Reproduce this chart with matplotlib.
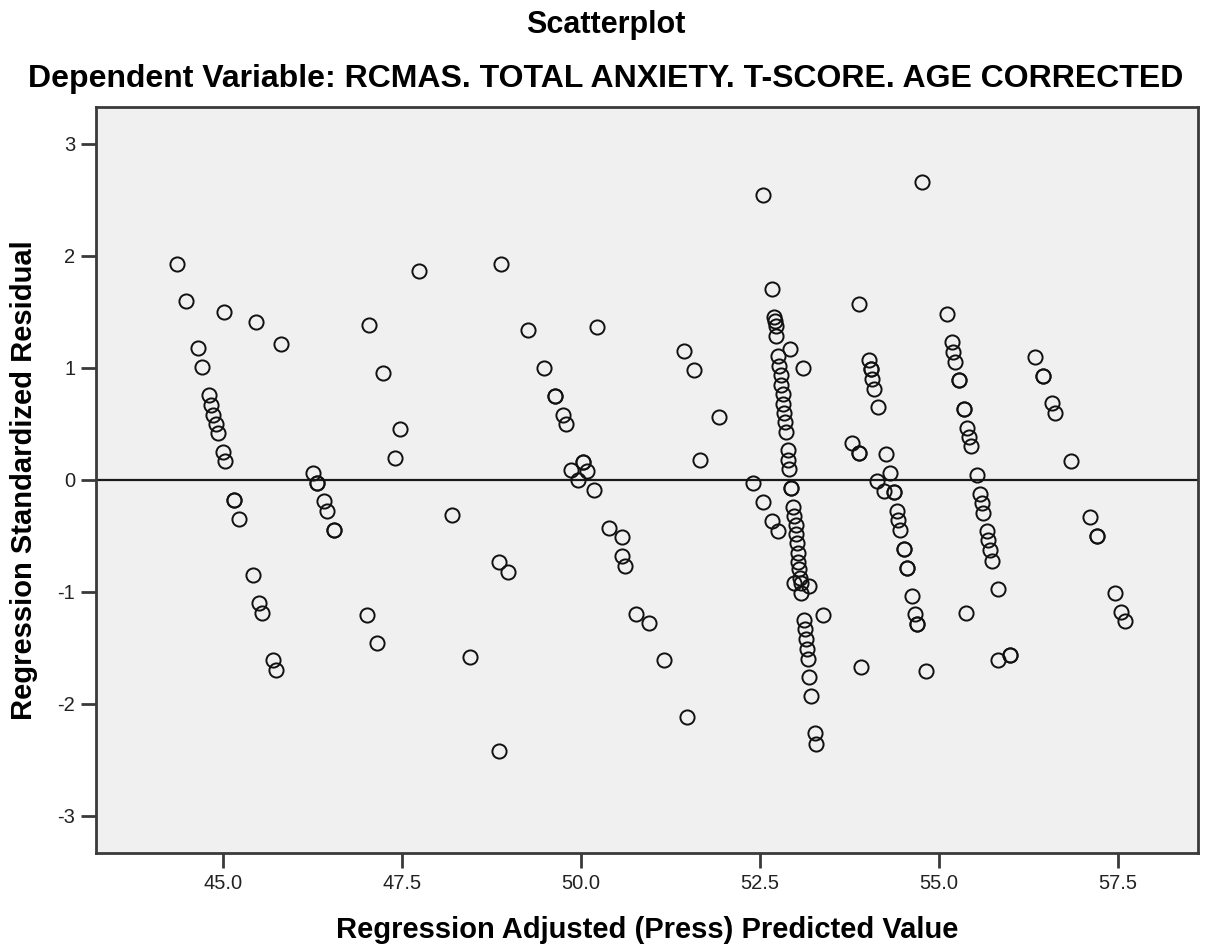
import numpy as np
import matplotlib
matplotlib.use("Agg")
import matplotlib.pyplot as plt

plt.rcParams['font.family'] = ['Liberation Sans', 'DejaVu Sans']

# Adjusted (Press) predicted values and standardized residuals
pred = [
    44.36, 44.48, 44.65, 44.71, 44.81, 44.84, 44.86, 44.90, 44.93, 45.00, 45.03,
    45.02, 45.16, 45.16, 45.23, 45.46, 45.42, 45.51, 45.55, 45.70, 45.74, 45.82,
    46.26, 46.31, 46.31, 46.41, 46.46, 46.56, 46.56,
    47.01, 47.04, 47.16, 47.24, 47.41, 47.48, 47.74,
    48.20, 48.45, 48.86, 48.99, 48.86, 48.89,
    49.26, 49.48, 49.64, 49.64, 49.75, 49.80, 49.86, 49.96, 50.03, 50.03, 50.09,
    50.19, 50.22,
    50.40, 50.57, 50.57, 50.62, 50.77, 50.95, 51.16, 51.49,
    51.44, 51.58, 51.66, 51.93,
    52.41, 52.54, 52.67, 52.75, 52.54, 52.67,
    52.70, 52.71, 52.72, 52.73, 52.76, 52.77, 52.79, 52.80, 52.82, 52.83, 52.84,
    52.85, 52.86, 52.89, 52.90, 52.91, 52.92, 53.10,
    52.94, 52.94, 52.97, 52.98, 53.00, 53.01, 53.02, 53.03, 53.04, 53.05, 53.06,
    53.07, 53.08, 52.98, 53.18, 53.12, 53.13, 53.14, 53.16, 53.17, 53.19, 53.22,
    53.27, 53.29, 53.38,
    53.79, 53.88, 53.88, 53.88, 53.92, 54.03, 54.05, 54.05, 54.07, 54.10, 54.15,
    54.26, 54.32, 54.14, 54.24, 54.37, 54.37, 54.41, 54.43, 54.46, 54.52, 54.52,
    54.56, 54.56, 54.63, 54.67, 54.70, 54.70, 54.76, 54.82,
    55.11, 55.18, 55.20, 55.23, 55.28, 55.28, 55.35, 55.35, 55.40, 55.42, 55.45,
    55.53, 55.57, 55.60, 55.62, 55.67, 55.69, 55.72, 55.74, 55.82, 55.38, 55.82,
    55.99, 55.99,
    56.35, 56.45, 56.45, 56.58, 56.62, 56.85, 57.11, 57.21, 57.21, 57.46, 57.55,
    57.60,
]
resid = [
    1.93, 1.60, 1.18, 1.01, 0.755, 0.665, 0.58, 0.495, 0.415, 0.25, 0.165,
    1.50, -0.18, -0.18, -0.345, 1.41, -0.85, -1.10, -1.19, -1.61, -1.70, 1.21,
    0.06, -0.024, -0.024, -0.19, -0.28, -0.446, -0.446,
    -1.205, 1.38, -1.46, 0.955, 0.196, 0.45, 1.86,
    -0.31, -1.58, -0.73, -0.82, -2.42, 1.93,
    1.34, 1.00, 0.75, 0.75, 0.58, 0.50, 0.09, 0.0, 0.16, 0.16, 0.08,
    -0.09, 1.36,
    -0.43, -0.51, -0.68, -0.77, -1.20, -1.28, -1.61, -2.12,
    1.15, 0.98, 0.18, 0.56,
    -0.03, -0.20, -0.37, -0.455, 2.54, 1.70,
    1.45, 1.42, 1.37, 1.28, 1.107, 1.02, 0.94, 0.85, 0.77, 0.68, 0.60,
    0.515, 0.426, 0.27, 0.18, 0.10, 1.17, 1.00,
    -0.074, -0.074, -0.24, -0.32, -0.40, -0.48, -0.565, -0.65, -0.73, -0.80, -0.88,
    -0.92, -1.01, -0.92, -0.95, -1.25, -1.33, -1.42, -1.51, -1.60, -1.76, -1.93,
    -2.26, -2.36, -1.21,
    0.33, 0.24, 0.24, 1.57, -1.67, 1.07, 0.99, 0.99, 0.90, 0.815, 0.65,
    0.23, 0.06, -0.006, -0.098, -0.11, -0.11, -0.28, -0.36, -0.45, -0.62, -0.62,
    -0.79, -0.79, -1.04, -1.20, -1.29, -1.29, 2.66, -1.71,
    1.48, 1.226, 1.137, 1.05, 0.887, 0.887, 0.63, 0.63, 0.467, 0.38, 0.30,
    0.04, -0.125, -0.21, -0.30, -0.46, -0.54, -0.63, -0.72, -0.97, -1.19, -1.61,
    -1.56, -1.56,
    1.10, 0.93, 0.93, 0.685, 0.595, 0.17, -0.33, -0.50, -0.50, -1.006, -1.18,
    -1.26,
]

x_ticks = [45.0, 47.5, 50.0, 52.5, 55.0, 57.5]
y_ticks = [-3, -2, -1, 0, 1, 2, 3]

title = "Scatterplot"
subtitle = "Dependent Variable: RCMAS. TOTAL ANXIETY. T-SCORE. AGE CORRECTED"
x_label = "Regression Adjusted (Press) Predicted Value"
y_label = "Regression Standardized Residual"

fig = plt.figure(figsize=(12.11, 9.47), dpi=100)
ax = fig.add_axes([0.0793, 0.0993, 0.910, 0.788])
ax.set_facecolor('#f0f0f0')

ax.axhline(0, color='#1a1a1a', lw=1.6, zorder=1)
ax.plot(pred, resid, 'o', mfc='none', mec='#111111', ms=10.2, mew=1.4,
        zorder=2)

ax.set_xlim(43.23, 58.62)
ax.set_ylim(-3.33, 3.33)
ax.set_xticks(x_ticks)
ax.set_xticklabels([f"{t:.1f}" for t in x_ticks])
ax.set_yticks(y_ticks)
ax.set_yticklabels([str(t) for t in y_ticks])

for sp in ax.spines.values():
    sp.set_color('#3a3a3a')
    sp.set_linewidth(2)
ax.tick_params(direction='out', length=11, width=2, color='#3a3a3a',
               labelsize=14.5, labelcolor='#222222', pad=4)

ax.set_xlabel(x_label, fontsize=21, fontweight='bold', labelpad=17)
ax.set_ylabel(y_label, fontsize=21, fontweight='bold', labelpad=14)

fig.text(0.5, 1 - 25 / 947, title, ha='center', va='center',
         fontsize=22, fontweight='bold')
fig.text(0.5, 1 - 79 / 947, subtitle, ha='center', va='center',
         fontsize=23, fontweight='bold')

fig.savefig('out.png', dpi=100)
